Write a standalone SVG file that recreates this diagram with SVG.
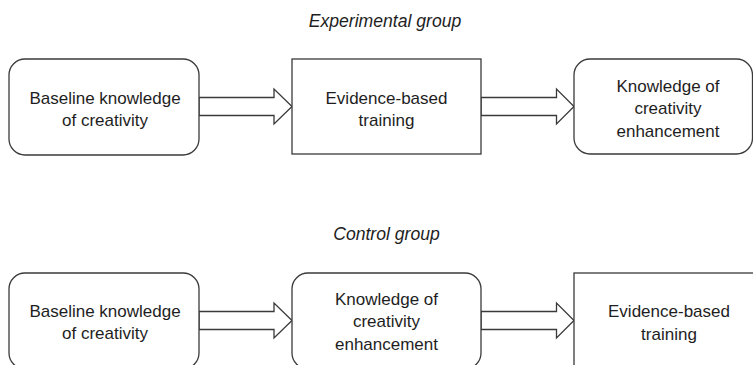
<svg xmlns="http://www.w3.org/2000/svg" width="753" height="365" viewBox="0 0 753 365">
<style>
.box{fill:#fff;stroke:#3a3a3a;stroke-width:1.3}
.arr{fill:#fff;stroke:#3a3a3a;stroke-width:1.3;stroke-linejoin:miter}
text{font-family:"Liberation Sans",Arial,sans-serif;font-size:17px;fill:#1e1e1e;text-anchor:middle}
.title{font-style:italic;font-size:17.6px}
</style>
<rect width="753" height="365" fill="#fff"/>
<text class="title" x="385" y="27">Experimental group</text>
<text class="title" x="386.5" y="240">Control group</text>
<g id="connectors">
<polygon class="arr" points="199,97.5 274,97.5 274,89 292,106.5 274,124 274,115.5 199,115.5"/>
<polygon class="arr" points="481,97.5 556.5,97.5 556.5,89 574,106.5 556.5,124 556.5,115.5 481,115.5"/>
<polygon class="arr" points="199,311.5 274,311.5 274,303 292,320.5 274,338 274,329.5 199,329.5"/>
<polygon class="arr" points="481,311.5 556.5,311.5 556.5,303 574,320.5 556.5,338 556.5,329.5 481,329.5"/>
</g>
<g id="e1">
<rect class="box" x="9" y="59" width="190" height="96" rx="16"/>
<text x="105" y="104">Baseline knowledge</text>
<text x="105" y="126">of creativity</text>
</g>
<g id="e2">
<rect class="box" x="292" y="59" width="189" height="95"/>
<text x="386.5" y="104">Evidence-based</text>
<text x="386.5" y="126">training</text>
</g>
<g id="e3">
<rect class="box" x="574" y="59" width="178.5" height="95" rx="16"/>
<text x="668" y="92">Knowledge of</text>
<text x="668" y="114">creativity</text>
<text x="668" y="137">enhancement</text>
</g>
<g id="c1">
<rect class="box" x="9" y="273" width="190" height="96" rx="16"/>
<text x="105" y="317">Baseline knowledge</text>
<text x="105" y="339">of creativity</text>
</g>
<g id="c2">
<rect class="box" x="292" y="273" width="189" height="96" rx="16"/>
<text x="386.5" y="305">Knowledge of</text>
<text x="386.5" y="327">creativity</text>
<text x="386.5" y="350">enhancement</text>
</g>
<g id="c3">
<rect class="box" x="574" y="273" width="190" height="96"/>
<text x="669" y="317">Evidence-based</text>
<text x="669" y="340">training</text>
</g>
</svg>
